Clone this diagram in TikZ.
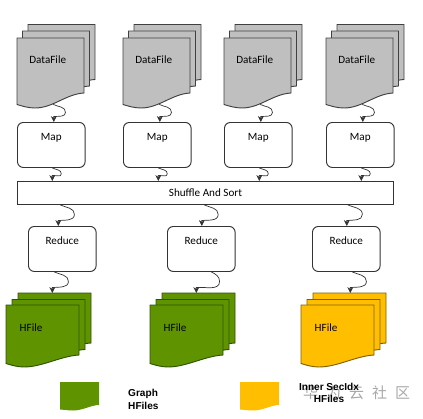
\documentclass[tikz,border=0pt]{standalone}
\usepackage{fontspec}
\setmainfont{Carlito}
\newfontfamily\legendfont{Liberation Sans}
\newfontfamily\cjkfont{Noto Sans CJK SC}
\usetikzlibrary{arrows.meta,calc}
\definecolor{DataGray}{HTML}{BFBFBF}
\definecolor{GraphGreen}{HTML}{5F9400}
\definecolor{GraphGreenDark}{HTML}{2F5200}
\definecolor{InnerGold}{HTML}{FFBF00}
\definecolor{InnerGoldDark}{HTML}{7F6000}
\definecolor{LineGray}{HTML}{333333}
\definecolor{MarkGray}{HTML}{A8A8A8}
\newcommand{\sheet}[6]{% x, y, width, height, dip, style
  \draw[#6] (#1,#2) -- ++(#3,0) -- ++(0,#4)
    .. controls +(-18,1) and +(18,0) .. ++(-#3+18,#5)
    .. controls +(-7,0) and +(5,1.5) .. ++(-18,-3.5) -- cycle;}
\newcommand{\flow}[3]{% from, to, bulge
  \draw[flow] (#1) to[out=-25,in=90] ($(#1)!.45!(#2)+(#3,0)$)
    to[out=-90,in=5] ($(#2)+(0,-5.5)$) -- (#2);}
\begin{document}
\begin{tikzpicture}[x=0.03cm,y=-0.03cm]
    \tikzset{
      flow/.style={draw=LineGray,line width=0.6pt,-{Stealth[length=5pt,width=5pt,inset=1.5pt]}},
      task/.style={draw=LineGray,line width=0.8pt,rounded corners=5pt,fill=white,minimum width=2.03cm,
        inner sep=0pt,text height=0.53cm,text depth=0.82cm,font=\fontsize{9.5}{11}\selectfont,anchor=north west},
      caption/.style={inner sep=0pt,font=\fontsize{9.5}{11}\selectfont,anchor=north west},
      datasheet/.style={draw=black!75,line width=0.8pt,fill=DataGray},
      greensheet/.style={draw=GraphGreenDark,line width=0.8pt,fill=GraphGreen},
      goldsheet/.style={draw=InnerGoldDark,line width=0.8pt,fill=InnerGold},
      legendtext/.style={font=\legendfont\bfseries\fontsize{8.6}{10.5}\selectfont,align=center,inner sep=0pt},
    }
    \useasboundingbox (0,0) rectangle (423,418);
    % input files and map tasks
    \foreach \i/\x in {1/17,2/123,3/224,4/326} {
      \sheet{\x+11}{24.5}{67}{55}{15}{datasheet}
      \sheet{\x+5.5}{31}{67}{55}{15}{datasheet}
      \sheet{\x}{38}{67}{55}{15}{datasheet}
      \node[caption,minimum width=2.01cm,text height=0.75cm,text depth=1.23cm] (df\i) at (\x,38) {\hspace{-0.18cm}DataFile};
      \node[task] (map\i) at (\x,122) {Map};
    }
    \node[draw=LineGray,line width=0.8pt,fill=white,minimum width=11.28cm,minimum height=0.69cm,
      inner sep=0pt,font=\fontsize{9.5}{11}\selectfont,anchor=north west] (sort) at (17,181) {Shuffle And Sort};
    % output files and reduce tasks
    \foreach \i/\x/\y/\s in {1/28/6/greensheet,2/167/150/greensheet,3/312/301/goldsheet} {
      \sheet{\y+12}{293}{73}{50}{12}{\s}
      \sheet{\y+6}{299.5}{73}{50}{12}{\s}
      \sheet{\y}{305}{73}{50}{12}{\s}
      \node[caption,minimum width=2.19cm,text height=0.78cm,text depth=0.99cm] (hf\i) at (\y,305) {\hspace{-0.7cm}HFile};
      \node[task] (red\i) at (\x,226) {Reduce};
    }
    % connectors
    \foreach \i in {1,2,3,4} {
      \flow{[xshift=2.5*0.03cm]df\i.south}{[xshift=2.5*0.03cm]map\i.north}{12}
      \flow{[xshift=1*0.03cm]map\i.south}{[xshift=1*0.03cm]map\i.south |- sort.north}{9}
    }
    \flow{[xshift=-2*0.03cm]red1.north |- sort.south}{[xshift=-4*0.03cm]red1.north}{15}
    \flow{[xshift=3*0.03cm]red2.north |- sort.south}{[xshift=0.5*0.03cm]red2.north}{15}
    \flow{[xshift=1.5*0.03cm]red3.north |- sort.south}{[xshift=0.5*0.03cm]red3.north}{15}
    \flow{[xshift=-8*0.03cm]red1.south}{[xshift=-10*0.03cm]red1.south |- 0,293}{15}
    \flow{[xshift=10*0.03cm]red2.south}{[xshift=-5*0.03cm]red2.south |- 0,293}{15}
    \flow{[xshift=6*0.03cm]red3.south}{[xshift=4*0.03cm]red3.south |- 0,293}{15}
    % legend
    \fill[GraphGreen] (60,382) -- ++(39,0) -- ++(0,23) .. controls +(-8,0) and +(10,0) .. ++(-26,5.5) .. controls +(-6,0) and +(4,0) .. ++(-13,-1) -- cycle;
    \fill[InnerGold] (240,382) -- ++(39,0) -- ++(0,23) .. controls +(-8,0) and +(10,0) .. ++(-26,5.5) .. controls +(-6,0) and +(4,0) .. ++(-13,-1) -- cycle;
    \node[font=\cjkfont\fontsize{12.8}{14}\selectfont,text=MarkGray,anchor=west,inner sep=0pt] (mark) at (303,393) {华\hspace{0.24cm}为\hspace{0.24cm}云\hspace{0.24cm}社\hspace{0.24cm}区};
    \node[legendtext,align=left,anchor=west] (graphlabel) at (128,399.5) {Graph\\HFiles};
    \node[legendtext] (innerlabel) at (329,393) {Inner SecIdx\\HFiles};
  \end{tikzpicture}
\end{document}
